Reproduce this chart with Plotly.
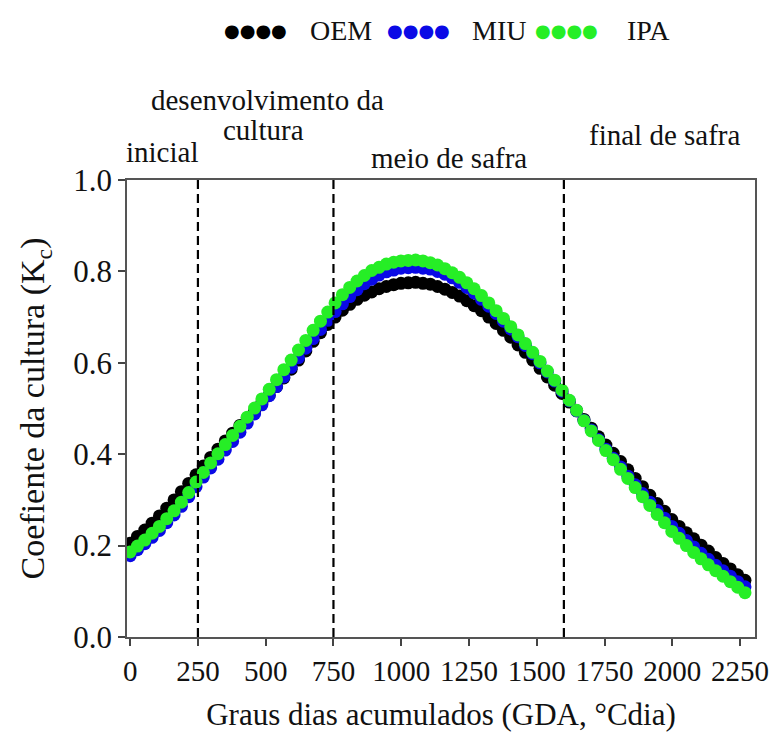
import plotly.graph_objects as go

# ---------------- data ----------------
gda = [0, 27, 54, 81, 108, 135, 162, 189, 216, 243, 270, 297, 324, 351, 378, 405, 432, 459, 486, 513,
       540, 567, 594, 621, 648, 675, 702, 729, 756, 783, 810, 837, 864, 891, 918, 945, 972, 999, 1026, 1053,
       1080, 1107, 1134, 1161, 1188, 1215, 1242, 1269, 1296, 1323, 1350, 1377, 1404, 1431, 1458, 1485, 1512, 1539, 1566, 1593,
       1620, 1647, 1674, 1701, 1728, 1755, 1782, 1809, 1836, 1863, 1890, 1917, 1944, 1971, 1998, 2025, 2052, 2079, 2106, 2133,
       2160, 2187, 2214, 2241, 2268]

kc_oem = [0.205, 0.220, 0.234, 0.249, 0.265, 0.282, 0.300, 0.318, 0.336, 0.355, 0.374, 0.393, 0.411, 0.429, 0.446, 0.463, 0.479, 0.495, 0.512, 0.529,
          0.548, 0.567, 0.586, 0.606, 0.626, 0.647, 0.666, 0.684, 0.700, 0.715, 0.728, 0.739, 0.748, 0.755, 0.762, 0.767, 0.771, 0.774, 0.775, 0.776,
          0.774, 0.772, 0.767, 0.761, 0.754, 0.746, 0.736, 0.725, 0.714, 0.700, 0.686, 0.671, 0.656, 0.639, 0.623, 0.606, 0.588, 0.569, 0.551, 0.533,
          0.514, 0.495, 0.476, 0.457, 0.438, 0.420, 0.402, 0.384, 0.366, 0.347, 0.329, 0.310, 0.292, 0.275, 0.257, 0.242, 0.228, 0.215, 0.201, 0.188,
          0.174, 0.161, 0.149, 0.136, 0.124]

kc_miu = [0.178, 0.191, 0.204, 0.218, 0.233, 0.250, 0.267, 0.286, 0.307, 0.329, 0.350, 0.370, 0.389, 0.409, 0.428, 0.448, 0.468, 0.488, 0.508, 0.528,
          0.548, 0.569, 0.590, 0.611, 0.632, 0.653, 0.673, 0.693, 0.712, 0.729, 0.745, 0.760, 0.773, 0.783, 0.792, 0.799, 0.803, 0.807, 0.808, 0.809,
          0.807, 0.805, 0.800, 0.794, 0.786, 0.776, 0.765, 0.753, 0.739, 0.724, 0.708, 0.691, 0.674, 0.657, 0.638, 0.620, 0.600, 0.580, 0.560, 0.538,
          0.517, 0.495, 0.474, 0.453, 0.432, 0.411, 0.391, 0.372, 0.352, 0.333, 0.314, 0.295, 0.277, 0.260, 0.242, 0.227, 0.211, 0.197, 0.183, 0.170,
          0.157, 0.145, 0.133, 0.121, 0.110]

kc_ipa = [0.186, 0.199, 0.212, 0.227, 0.242, 0.259, 0.276, 0.295, 0.316, 0.339, 0.360, 0.381, 0.401, 0.421, 0.441, 0.461, 0.481, 0.501, 0.521, 0.542,
          0.563, 0.585, 0.606, 0.628, 0.649, 0.671, 0.691, 0.711, 0.731, 0.749, 0.765, 0.779, 0.791, 0.802, 0.809, 0.816, 0.820, 0.823, 0.824, 0.825,
          0.823, 0.819, 0.814, 0.806, 0.797, 0.787, 0.775, 0.762, 0.747, 0.731, 0.714, 0.697, 0.679, 0.661, 0.642, 0.623, 0.603, 0.582, 0.562, 0.540,
          0.518, 0.496, 0.473, 0.451, 0.430, 0.408, 0.388, 0.367, 0.347, 0.327, 0.307, 0.288, 0.268, 0.250, 0.231, 0.216, 0.200, 0.185, 0.171, 0.158,
          0.145, 0.133, 0.121, 0.109, 0.097]

series_names = ["OEM", "MIU", "IPA"]
series_colors = ["#000000", "#0a0ae6", "#26ee26"]

stage_bounds = [250, 750, 1600]
stage_labels = ["inicial", "desenvolvimento da", "cultura", "meio de safra", "final de safra"]
stage_label_x = [118, 506, 491, 1176, 1970]
stage_label_y = [1.061, 1.175, 1.109, 1.048, 1.098]

x_ticks = [0, 250, 500, 750, 1000, 1250, 1500, 1750, 2000, 2250]
y_ticks = [0.0, 0.2, 0.4, 0.6, 0.8, 1.0]

# ---------------- figure ----------------
FONT = "Liberation Serif"
TXT = "#111111"
fig = go.Figure()
for name, col, ys in zip(series_names, series_colors, [kc_oem, kc_miu, kc_ipa]):
    fig.add_trace(go.Scatter(x=gda, y=ys, mode="markers", name=name,
                             marker=dict(size=13, color=col, line=dict(width=0)),
                             showlegend=False))

for b in stage_bounds:
    fig.add_shape(type="line", xref="x", yref="paper", x0=b, x1=b, y0=0, y1=1,
                  line=dict(color="black", width=2.2, dash="9px,5px"))

for txt, xv, yv in zip(stage_labels, stage_label_x, stage_label_y):
    fig.add_annotation(text=txt, x=xv, y=yv, xref="x", yref="paper", showarrow=False,
                       font=dict(family=FONT, size=29, color=TXT),
                       xanchor="center", yanchor="middle")

# legend drawn as text (four dots + label per series)
legend_dot_x = [0.204, 0.464, 0.700]
legend_txt_x = [0.341, 0.592, 0.830]
for name, col, dx, tx in zip(series_names, series_colors, legend_dot_x, legend_txt_x):
    fig.add_annotation(text="\u25cf\u25cf\u25cf\u25cf", x=dx, y=1.328, xref="paper", yref="paper",
                       showarrow=False, xanchor="center", yanchor="middle",
                       font=dict(family="DejaVu Sans", size=18, color=col))
    fig.add_annotation(text=name, x=tx, y=1.328, xref="paper", yref="paper",
                       showarrow=False, xanchor="center", yanchor="middle",
                       font=dict(family=FONT, size=28, color=TXT))

axis_common = dict(showline=True, linecolor="#555555", linewidth=1.5, mirror=True,
                   ticks="outside", ticklen=7, tickwidth=1.5, tickcolor="#444444",
                   showgrid=False, zeroline=False)

fig.update_xaxes(range=[-11.6, 2305], tickvals=x_ticks,
                 tickfont=dict(family=FONT, size=29, color=TXT),
                 title=dict(text="Graus dias acumulados (GDA, °Cdia)",
                            font=dict(family=FONT, size=31, color=TXT), standoff=18),
                 **axis_common)
fig.update_yaxes(range=[0, 1.0], tickvals=y_ticks, tickformat=".1f",
                 tickfont=dict(family=FONT, size=31, color=TXT),
                 title=dict(text="Coefiente da cultura (K<sub>c</sub>)",
                            font=dict(family=FONT, size=34, color=TXT), standoff=18),
                 **axis_common)

fig.update_layout(width=781, height=740, margin=dict(l=127, r=16, t=180, b=103),
                  font=dict(family=FONT, size=28, color=TXT),
                  paper_bgcolor="white", plot_bgcolor="white", showlegend=False)

fig.write_html("out.html")
